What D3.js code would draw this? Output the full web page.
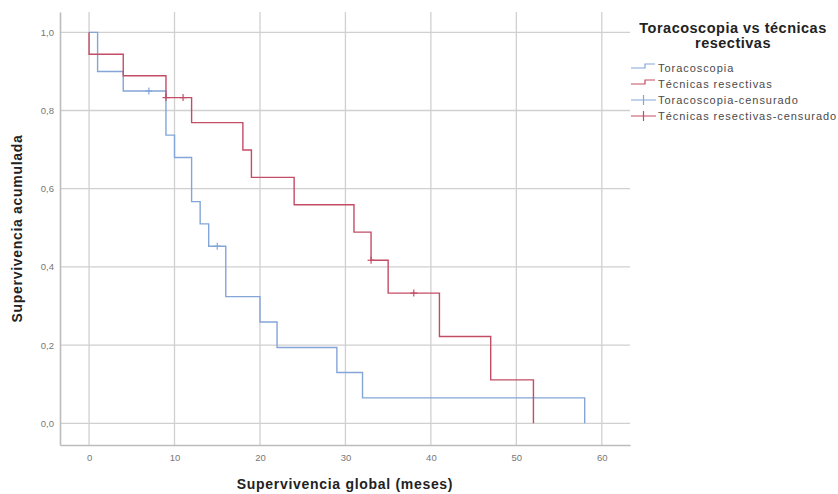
<!DOCTYPE html>
<html>
<head>
<meta charset="utf-8">
<script src="https://cdn.jsdelivr.net/npm/d3@7"></script>
<style>
  body { margin: 0; background: #fff; }
  text { font-family: "Liberation Sans", Arial, sans-serif; }
</style>
</head>
<body>
<div id="chart"></div>
<script>
// Kaplan-Meier steps
const toracoTimes = [0, 1, 4, 9, 10, 12, 13, 14, 16, 20, 22, 29, 32, 58];
const toracoSurv  = [1, 0.9, 0.85, 0.737, 0.68, 0.567, 0.51, 0.453, 0.324, 0.259, 0.194, 0.13, 0.065, 0];
const toracoCensT = [7, 15];
const toracoCensS = [0.85, 0.453];

const resecTimes = [0, 0, 4, 9, 12, 18, 19, 24, 31, 33, 35, 41, 47, 52];
const resecSurv  = [1, 0.944, 0.889, 0.833, 0.769, 0.699, 0.629, 0.559, 0.489, 0.417, 0.333, 0.222, 0.111, 0];
const resecCensT = [9, 11, 33, 38];
const resecCensS = [0.833, 0.833, 0.417, 0.333];

const xTicks = [0, 10, 20, 30, 40, 50, 60];
const yTicks = [0, 0.2, 0.4, 0.6, 0.8, 1.0];

const legendTitle = ["Toracoscopia vs técnicas", "resectivas"];
const legendLabels = ["Toracoscopia", "Técnicas resectivas", "Toracoscopia-censurado", "Técnicas resectivas-censurado"];

const colors = { torac: "#84a5d8", resec: "#c44d66", grid: "#d0d0d0", axis: "#bcbcbc" };

const width = 838, height = 494;
const plot = { left: 60, right: 630, top: 12, bottom: 445 };

const svg = d3.select("#chart").append("svg")
    .attr("width", width)
    .attr("height", height);

const xScale = d3.scaleLinear()
    .domain([-3.4, 63.3])
    .range([plot.left, plot.right]);

const yScale = d3.scaleLinear()
    .domain([-0.0555, 1.052])
    .range([plot.bottom, plot.top]);

// grid
svg.append("g").selectAll("line").data(yTicks).join("line")
    .attr("x1", plot.left).attr("x2", plot.right)
    .attr("y1", d => yScale(d)).attr("y2", d => yScale(d))
    .attr("stroke", colors.grid).attr("stroke-width", 1.3);

svg.append("g").selectAll("line").data(xTicks).join("line")
    .attr("x1", d => xScale(d)).attr("x2", d => xScale(d))
    .attr("y1", plot.top).attr("y2", plot.bottom)
    .attr("stroke", colors.grid).attr("stroke-width", 1.3);

// axes
const xAxis = d3.axisBottom(xScale).tickValues(xTicks).tickSize(0).tickPadding(9).tickFormat(d3.format("d"));
const yAxis = d3.axisLeft(yScale).tickValues(yTicks).tickSize(0).tickPadding(6)
    .tickFormat(d => d3.format(".1f")(d).replace(".", ","));

const gx = svg.append("g").attr("transform", `translate(0,${plot.bottom})`).call(xAxis);
const gy = svg.append("g").attr("transform", `translate(${plot.left},0)`).call(yAxis);
[gx, gy].forEach(g => {
  g.select(".domain").attr("stroke", colors.axis).attr("stroke-width", 1.6);
  g.selectAll("text").attr("fill", "#777").style("font-size", "9.5px");
});

// step curves
const stepLine = d3.line()
    .x(d => xScale(d[0]))
    .y(d => yScale(d[1]))
    .curve(d3.curveStepAfter);

svg.append("path")
    .attr("d", stepLine(d3.zip(toracoTimes, toracoSurv)))
    .attr("fill", "none").attr("stroke", colors.torac).attr("stroke-width", 1.4);

svg.append("path")
    .attr("d", stepLine(d3.zip(resecTimes, resecSurv)))
    .attr("fill", "none").attr("stroke", colors.resec).attr("stroke-width", 1.4);

// censor marks
function censor(ts, ss, color) {
  const g = svg.append("g").attr("stroke", color).attr("stroke-width", 1.2);
  d3.zip(ts, ss).forEach(([t, s]) => {
    g.append("line").attr("x1", xScale(t)).attr("x2", xScale(t))
      .attr("y1", yScale(s) - 3.5).attr("y2", yScale(s) + 3.5);
    g.append("line").attr("x1", xScale(t) - 3.5).attr("x2", xScale(t) + 3.5)
      .attr("y1", yScale(s)).attr("y2", yScale(s));
  });
}
censor(toracoCensT, toracoCensS, colors.torac);
censor(resecCensT, resecCensS, colors.resec);

// axis titles
svg.append("text")
    .attr("x", 345).attr("y", 489)
    .attr("text-anchor", "middle")
    .style("font-size", "14px").style("font-weight", "bold").style("letter-spacing", "0.7px")
    .attr("fill", "#222")
    .text("Supervivencia global (meses)");

svg.append("text")
    .attr("transform", `translate(22,${(plot.top + plot.bottom) / 2}) rotate(-90)`)
    .attr("text-anchor", "middle")
    .style("font-size", "14px").style("font-weight", "bold").style("letter-spacing", "0.7px")
    .attr("fill", "#222")
    .text("Supervivencia acumulada");

// legend
const legend = svg.append("g");
legend.selectAll("text.title").data(legendTitle).join("text")
    .attr("class", "title")
    .attr("x", 733).attr("y", (d, i) => 33 + i * 15)
    .attr("text-anchor", "middle")
    .style("font-size", "14.5px").style("font-weight", "bold").style("letter-spacing", "0.5px")
    .attr("fill", "#222")
    .text(d => d);

const legendColors = [colors.torac, colors.resec, colors.torac, colors.resec];
legendLabels.forEach((label, i) => {
  const y = 68 + i * 16;
  const c = legendColors[i];
  if (i < 2) {
    legend.append("path")
      .attr("d", `M631,${y}H645V${y - 4}H655`)
      .attr("fill", "none").attr("stroke", c).attr("stroke-width", 1.2);
  } else {
    legend.append("path")
      .attr("d", `M631,${y}H656M643.5,${y - 5}V${y + 5}`)
      .attr("fill", "none").attr("stroke", c).attr("stroke-width", 1.2);
  }
  legend.append("text")
    .attr("x", 658).attr("y", y + 4)
    .style("font-size", "11px").style("letter-spacing", "0.95px")
    .attr("fill", "#4a4a4a")
    .text(label);
});
</script>
</body>
</html>
